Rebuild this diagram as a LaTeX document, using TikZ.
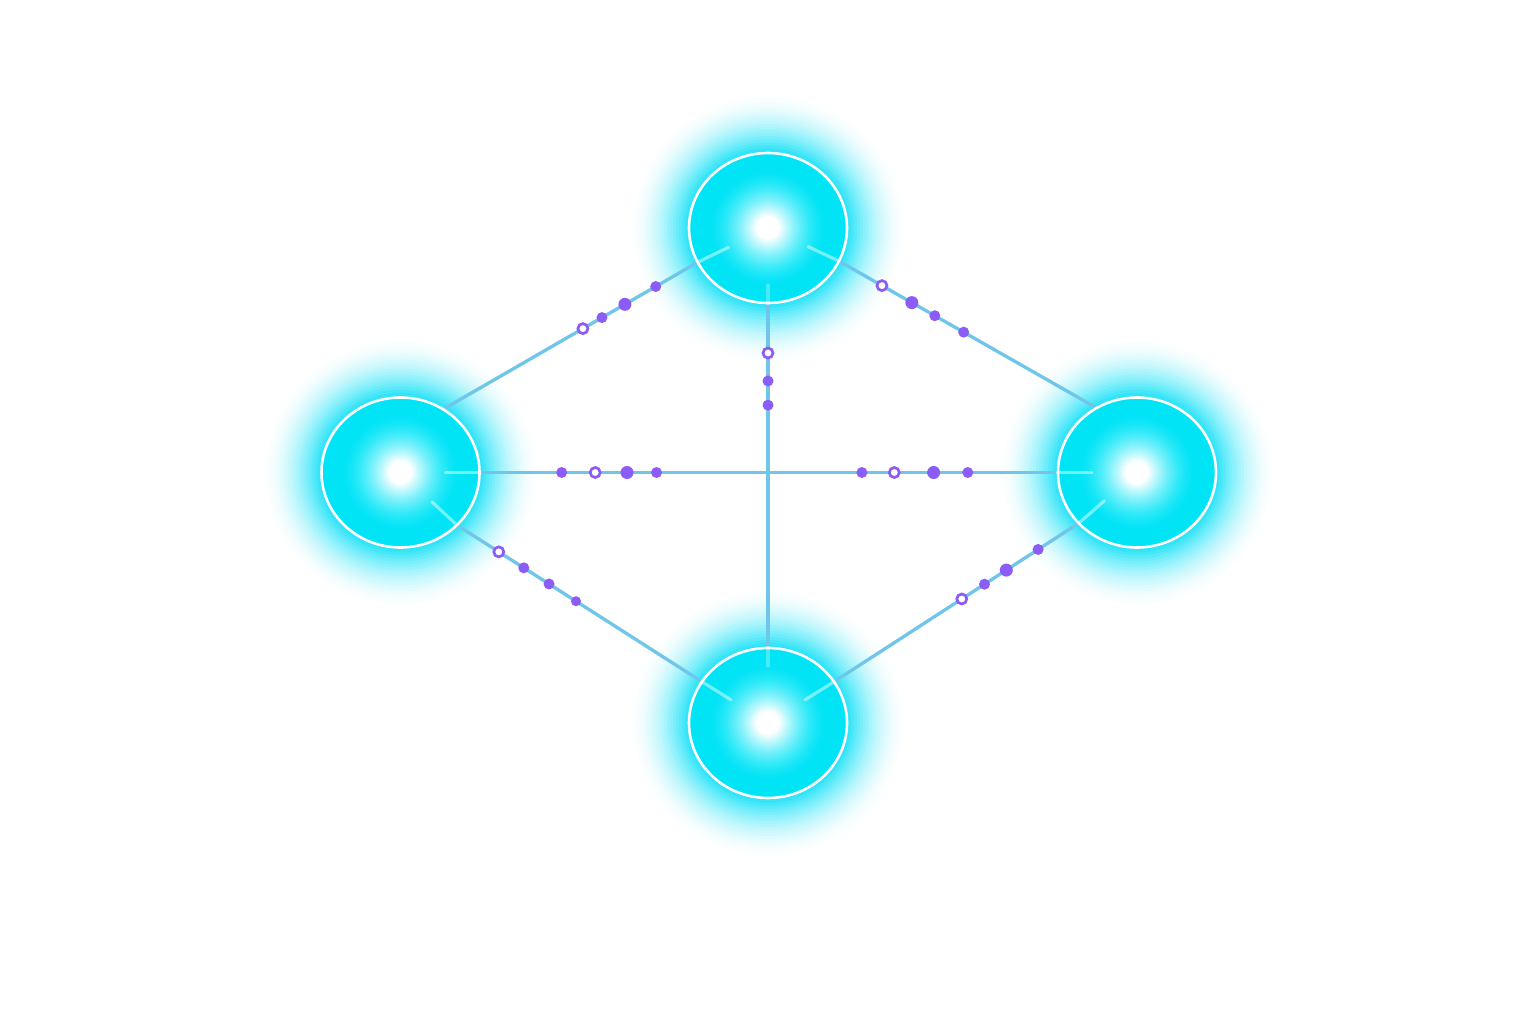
\documentclass[tikz,border=0pt]{standalone}
\usetikzlibrary{shapes.geometric,calc}
\definecolor{nodecyan}{RGB}{0,228,246}
\definecolor{glowcyan}{RGB}{0,222,246}
\definecolor{edgeblue}{RGB}{112,198,234}
\definecolor{dotpurple}{RGB}{139,92,246}
\pgfdeclarelayer{paper}
\pgfdeclarelayer{glow}
\pgfdeclarelayer{edges}
\pgfsetlayers{paper,glow,edges,main}
\tikzset{
  hub/.style={ellipse, draw=white, line width=2.6pt, fill=nodecyan,
    minimum width=158pt, minimum height=150pt, inner sep=0pt, outer sep=0pt},
  link/.style={draw=edgeblue, line width=3.3pt},
  dotf/.style={circle, fill=dotpurple, inner sep=0pt, minimum size=11pt},
  dotF/.style={dotf, minimum size=13pt},
  dots/.style={dotf, minimum size=10pt},
  doth/.style={circle, draw=dotpurple, fill=white, line width=2.7pt,
    inner sep=0pt, minimum size=10pt},
  streak/.style={draw=white, line width=3.2pt, opacity=0.45, line cap=round},
  faintstreak/.style={streak, opacity=0.28},
}
\begin{document}
\begin{tikzpicture}[x=1pt,y=-1pt]
\begin{pgfonlayer}{paper}
\fill[white] (0,0) rectangle (1536,1024);
\end{pgfonlayer}
\useasboundingbox (0,0) rectangle (1536,1024);

% hubs
\node[hub] (T) at (768,228) {};
\node[hub] (L) at (400.5,472.5) {};
\node[hub] (R) at (1137,472.5) {};
\node[hub] (B) at (768,723) {};

% inner light
\foreach \n in {T,L,R,B}{
  \foreach \r in {60,58,...,2}{
    \pgfmathsetmacro\w{min(100,100*((60-\r)/48)^1.6)}
    \fill[white!\w!nodecyan] (\n.center) circle[radius=\r pt];
  }
}

% streaks inside hubs
\foreach \n/\a in {T/206.6, T/335, L/0, L/317, R/180, R/221.6, B/148.8, B/32}{
  \draw[streak] (\n.\a) -- ($(\n.\a)!34pt!(\n.center)$);
}
\foreach \n/\a in {T/270, B/90}{
  \draw[faintstreak] (\n.\a) -- ($(\n.\a)!18pt!(\n.center)$);
}

% glow
\begin{pgfonlayer}{glow}
\foreach \n in {T,L,R,B}{
  \foreach \r in {140,137,...,79}{
    \pgfmathsetmacro\p{90*((140-\r)/61)^1.8}
    \pgfmathsetmacro\ry{\r-3}
    \fill[glowcyan!\p!white] (\n.center) ellipse[x radius=\r pt, y radius=\ry pt];
  }
}
\end{pgfonlayer}

% connectors
\begin{pgfonlayer}{edges}
\draw[link] (T.206.6) -- (L.56.7)
  node[pos=.165,dotf]{} node[pos=.286,dotF]{} node[pos=.376,dotf]{} node[pos=.451,doth]{};
\draw[link] (T.335) -- (R.122.3)
  node[pos=.167,doth]{} node[pos=.283,dotF]{} node[pos=.372,dotf]{} node[pos=.484,dotf]{};
\draw[link] (L.0) -- (R.180)
  node[pos=.142,dotf]{} node[pos=.200,doth]{} node[pos=.255,dotF]{} node[pos=.306,dotf]{}
  node[pos=.661,dotf]{} node[pos=.717,doth]{} node[pos=.785,dotF]{} node[pos=.844,dotf]{};
\draw[link] (T.270) -- (B.90)
  node[pos=.145,doth]{} node[pos=.226,dotf]{} node[pos=.296,dotf]{};
\draw[link] (L.317) -- (B.148.8)
  node[pos=.171,doth]{} node[pos=.273,dotf]{} node[pos=.376,dotf]{} node[pos=.486,dots]{};
\draw[link] (R.221.6) -- (B.32)
  node[pos=.166,dotf]{} node[pos=.296,dotF]{} node[pos=.385,dotf]{} node[pos=.478,doth]{};
\end{pgfonlayer}
\end{tikzpicture}
\end{document}
